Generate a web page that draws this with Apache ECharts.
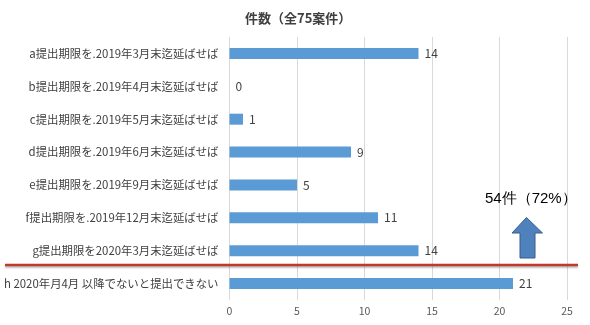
<!DOCTYPE html>
<html><head><meta charset="utf-8">
<script src="https://cdn.jsdelivr.net/npm/echarts@6/dist/echarts.min.js"></script>
<style>html,body{margin:0;padding:0;background:#fff}#c{width:590px;height:325px}</style>
</head><body><div id="c"></div>
<script>
const categories = [
  'a提出期限を.2019年3月末迄延ばせば',
  'b提出期限を.2019年4月末迄延ばせば',
  'c提出期限を.2019年5月末迄延ばせば',
  'd提出期限を.2019年6月末迄延ばせば',
  'e提出期限を.2019年9月末迄延ばせば',
  'f提出期限を.2019年12月末迄延ばせば',
  'g提出期限を2020年3月末迄延ばせば',
  'h 2020年月4月 以降でないと提出できない'
];
const counts = [14, 0, 1, 9, 5, 11, 14, 21];
const titleText = '件数（全75案件）';
const noteText = '54件（72%）';
const xTicks = [0, 5, 10, 15, 20, 25];

const FONT = '"Noto Sans CJK JP", "Noto Sans", sans-serif';
const chart = echarts.init(document.getElementById('c'), null, {renderer: 'canvas'});
chart.setOption({
  animation: false,
  textStyle: {fontFamily: FONT},
  title: {
    text: titleText, left: 240, top: 7,
    textStyle: {fontFamily: FONT, fontSize: 13, fontWeight: 'bold', color: '#404040'}
  },
  grid: {left: 229.5, right: 23, top: 37, bottom: 25, containLabel: false, outerBoundsMode: 'none'},
  xAxis: {
    type: 'value', min: xTicks[0], max: xTicks[xTicks.length - 1], interval: 5,
    axisLine: {show: false}, axisTick: {show: false},
    axisLabel: {color: '#595959', fontSize: 10.5, margin: 6, fontFamily: FONT},
    splitLine: {show: true, lineStyle: {color: '#d9d9d9', width: 1}}
  },
  yAxis: {
    type: 'category', data: categories, inverse: true,
    axisLine: {show: false}, axisTick: {show: false},
    axisLabel: {color: '#404040', fontSize: 11.4, margin: 11, fontFamily: FONT}
  },
  series: [{
    type: 'bar', data: counts, barWidth: 11,
    itemStyle: {color: '#5b9bd5'},
    label: {show: true, position: 'right', distance: 6, color: '#404040', fontSize: 12, fontFamily: FONT}
  }],
  graphic: [
    {type: 'line', shape: {x1: 5, y1: 265, x2: 578, y2: 265}, z: 100,
     style: {stroke: '#c0392b', lineWidth: 2.5, shadowColor: 'rgba(0,0,0,0.3)', shadowBlur: 2, shadowOffsetY: 1.5}},
    {type: 'polygon', z: 100,
     shape: {points: [[526.5, 217.5], [542.5, 233], [535, 233], [535, 258], [520, 258], [520, 233], [512, 233]]},
     style: {fill: '#4f81bd', stroke: '#385d8a', lineWidth: 1}},
    {type: 'text', left: 485, top: 191, z: 100,
     style: {text: noteText, fontSize: 15, fill: '#000', font: '15px ' + FONT}}
  ]
});
</script></body></html>
